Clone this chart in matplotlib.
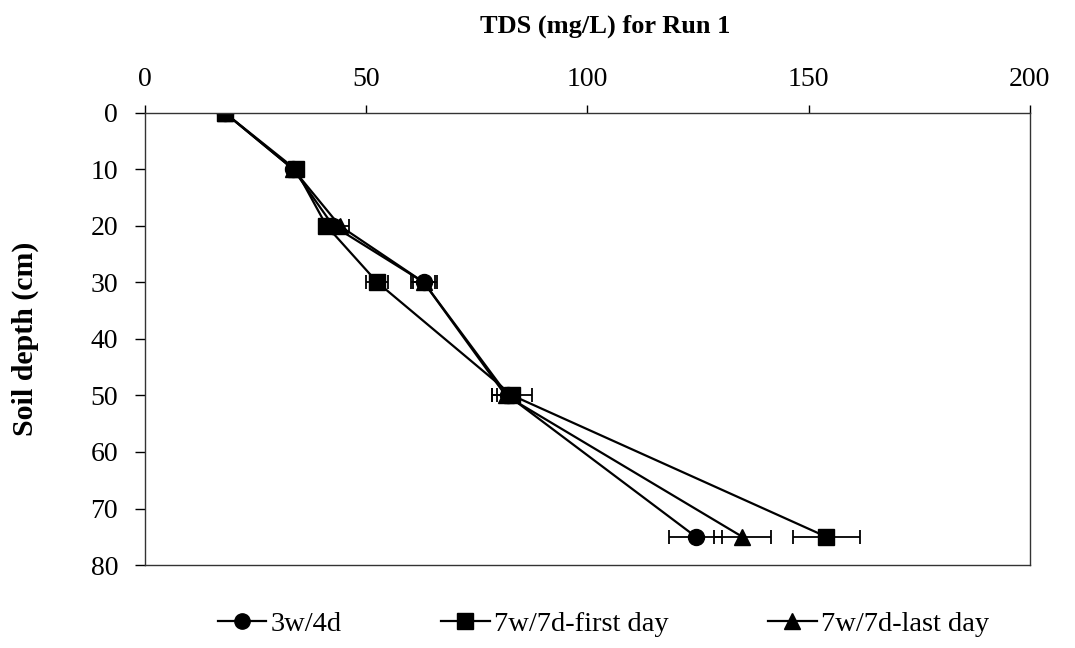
import numpy as np
import matplotlib
matplotlib.use('Agg')
from matplotlib import pyplot as plt
from matplotlib.lines import Line2D

depth = [0, 10, 20, 30, 50, 75]

tds_3w4d = [18, 33.5, 42.5, 63, 82, 124.5]
err_3w4d = [0.5, 0.5, 1.5, 2.5, 2.5, 6]

tds_7w_first = [18, 34, 41, 52.5, 83, 154]
err_7w_first = [0.5, 0.5, 1.0, 2.5, 4.5, 7.5]

tds_7w_last = [18, 33.5, 44, 63, 81.5, 135]
err_7w_last = [0.5, 0.5, 2.0, 3.0, 3.0, 6.5]

series = [
    ('3w/4d', tds_3w4d, err_3w4d, 'o'),
    ('7w/7d-first day', tds_7w_first, err_7w_first, 's'),
    ('7w/7d-last day', tds_7w_last, err_7w_last, '^'),
]

plt.rcParams['font.family'] = ['Liberation Serif', 'DejaVu Serif']

fig = plt.figure(figsize=(10.75, 6.48), dpi=100)
ax = fig.add_axes([0.135, 0.128, 0.823, 0.698])

handles = []
for label, x, err, m in series:
    ax.errorbar(x, depth, xerr=err, marker=m, color='black', markersize=11.5,
                linewidth=1.6, elinewidth=1.3, capsize=5, capthick=1.3)
    handles.append(Line2D([], [], color='black', marker=m, markersize=11,
                          linewidth=1.6, label=label))

ax.set_xlim(0, 200)
ax.set_ylim(80, 0)
ax.set_xticks([0, 50, 100, 150, 200])
ax.set_yticks(np.arange(0, 81, 10))
ax.xaxis.tick_top()
ax.xaxis.set_label_position('top')
ax.tick_params(axis='both', labelsize=20, direction='out', width=1)
ax.tick_params(axis='x', length=6, pad=9)
ax.tick_params(axis='y', length=7.5, pad=12)
ax.set_xlabel('TDS (mg/L) for Run 1', fontsize=19, fontweight='bold', labelpad=25)
ax.xaxis.label.set_x(0.52)
ax.set_ylabel('Soil depth (cm)', fontsize=21.5, fontweight='bold', labelpad=37)
for s in ax.spines.values():
    s.set_linewidth(1)
    s.set_color('#333333')

ax.legend(handles=handles, loc='center', bbox_to_anchor=(0.518, -0.13), ncol=3,
          frameon=False, fontsize=20.5, handlelength=1.7, columnspacing=3.5,
          handletextpad=0.15)

fig.savefig('out.png', dpi=100)
